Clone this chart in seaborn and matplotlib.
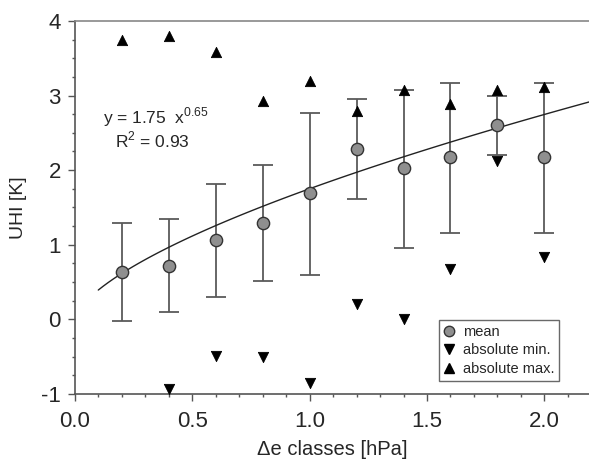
import numpy as np
import pandas as pd
import matplotlib
matplotlib.use("Agg")
import matplotlib.pyplot as plt
import seaborn as sns
from matplotlib.ticker import MultipleLocator
from matplotlib.lines import Line2D

sns.set_style("ticks")
plt.rcParams['font.family'] = ['Liberation Sans', 'DejaVu Sans']
plt.rcParams['mathtext.fontset'] = 'custom'
plt.rcParams['mathtext.rm'] = 'Liberation Sans'

# data
de_classes = [0.2, 0.4, 0.6, 0.8, 1.0, 1.2, 1.4, 1.6, 1.8, 2.0]
uhi_mean = [0.63, 0.72, 1.06, 1.29, 1.69, 2.28, 2.03, 2.17, 2.60, 2.17]
err_low = [-0.02, 0.10, 0.30, 0.51, 0.59, 1.61, 0.96, 1.15, 2.20, 1.16]
err_high = [1.29, 1.35, 1.81, 2.07, 2.77, 2.95, 3.08, 3.17, 3.00, 3.17]
abs_min = [np.nan, -0.93, -0.49, -0.51, -0.86, 0.20, 0.00, 0.67, 2.12, 0.83]
abs_max = [3.75, 3.80, 3.58, 2.93, 3.19, 2.79, 3.07, 2.89, 3.07, 3.11]
fit_a, fit_b = 1.75, 0.65
fit_x = np.linspace(0.1, 2.2, 100)

df = pd.DataFrame({"x": de_classes, "mean": uhi_mean, "lo": err_low, "hi": err_high,
                   "min": abs_min, "max": abs_max})
fit_df = pd.DataFrame({"x": fit_x, "y": fit_a * fit_x ** fit_b})

fig = plt.figure(figsize=(5.89, 4.65), dpi=100)
ax = fig.add_axes([0.127, 0.153, 0.873, 0.802])

yerr = np.array([df["mean"] - df["lo"], df["hi"] - df["mean"]])
ax.errorbar(df["x"], df["mean"], yerr=yerr, fmt='none', ecolor='#5a5a5a',
            elinewidth=1.3, capsize=7, capthick=1.3, zorder=2)
sns.lineplot(data=fit_df, x="x", y="y", ax=ax, color='#222222', linewidth=1.0, zorder=3)
sns.scatterplot(data=df, x="x", y="max", ax=ax, marker='^', s=55, color='black',
                edgecolor='black', zorder=4)
sns.scatterplot(data=df, x="x", y="min", ax=ax, marker='v', s=55, color='black',
                edgecolor='black', zorder=4)
sns.scatterplot(data=df, x="x", y="mean", ax=ax, marker='o', s=78, color='#8f8f8f',
                edgecolor='#333333', linewidth=1.0, zorder=5)

ax.set_xlim(0, 2.19)
ax.set_ylim(-1, 4)
ax.xaxis.set_minor_locator(MultipleLocator(0.1))
ax.yaxis.set_minor_locator(MultipleLocator(0.25))
ax.set_xticks([0, 0.5, 1.0, 1.5, 2.0])
ax.set_xticklabels(["0.0", "0.5", "1.0", "1.5", "2.0"])
ax.set_yticks([-1, 0, 1, 2, 3, 4])
ax.set_yticklabels(["-1", "0", "1", "2", "3", "4"])
ax.tick_params(axis='both', which='major', direction='out', length=5, width=1.0,
               labelsize=16, color='#555555', pad=5)
ax.tick_params(axis='x', which='major', pad=7)
ax.tick_params(axis='both', which='minor', direction='out', length=2.5, width=1.0,
               color='#555555')

ax.spines['right'].set_visible(False)
ax.spines['top'].set_visible(True)
ax.spines['top'].set_color('#888888')
ax.spines['left'].set_color('#555555')
ax.spines['bottom'].set_color('#555555')
for s in ['top', 'left', 'bottom']:
    ax.spines[s].set_linewidth(1.2)

ax.set_xlabel("Δe classes [hPa]", fontsize=14.5, labelpad=6)
ax.set_ylabel("UHI [K]", fontsize=14, labelpad=10)

ax.text(0.12, 2.63, "y = 1.75  x$^{0.65}$", fontsize=12.5, ha='left', va='baseline')
ax.text(0.33, 2.30, "R$^{2}$ = 0.93", fontsize=12.5, ha='center', va='baseline')

handles = [
    Line2D([], [], marker='o', linestyle='none', markersize=7.5, markerfacecolor='#8f8f8f',
           markeredgecolor='#333333'),
    Line2D([], [], marker='v', linestyle='none', markersize=7, color='black'),
    Line2D([], [], marker='^', linestyle='none', markersize=7, color='black'),
]
leg = ax.legend(handles, ["mean", "absolute min.", "absolute max."], loc='lower right',
                bbox_to_anchor=(0.942, 0.035), fontsize=10.5, frameon=True, fancybox=False,
                handlelength=0.8, handletextpad=0.5, borderpad=0.35, labelspacing=0.3,
                borderaxespad=0)
leg.get_frame().set_edgecolor('#444444')
leg.get_frame().set_linewidth(1.0)

fig.savefig("out.png", dpi=100)
